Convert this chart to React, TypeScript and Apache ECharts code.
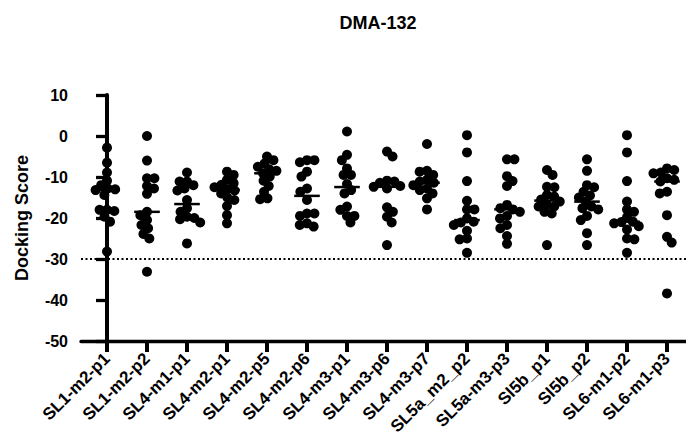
import React, { useEffect, useRef } from "react";
import * as echarts from "echarts";

const title = "DMA-132";
const yAxisName = "Docking Score";
const categories = [
  "SL1-m2-p1", "SL1-m2-p2", "SL4-m1-p1", "SL4-m2-p1", "SL4-m2-p5",
  "SL4-m2-p6", "SL4-m3-p1", "SL4-m3-p6", "SL4-m3-p7", "SL5a_m2_p2",
  "SL5a-m3-p3", "Sl5b_p1", "Sl5b_p2", "SL6-m1-p2", "SL6-m1-p3",
];

const sl1m2p1 = [-2.85, -6.5, -8.9, -10.9, -12.0, -12.8, -13.0, -13.2, -14.4, -18.0, -18.0, -18.3, -19.7, -20.9, -28.2];
const sl1m2p2 = [0.0, -6.0, -10.3, -10.3, -12.2, -12.8, -14.1, -18.5, -19.3, -20.5, -21.7, -22.5, -23.9, -25.0, -33.1];
const sl4m1p1 = [-8.9, -11.1, -11.1, -12.0, -12.8, -13.3, -15.6, -17.6, -18.5, -19.7, -20.0, -20.3, -21.1, -26.2];
const sl4m2p1 = [-8.7, -9.5, -10.7, -11.5, -11.9, -12.5, -13.0, -13.3, -14.0, -15.0, -15.6, -17.1, -19.3, -21.3];
const sl4m2p5 = [-5.0, -5.9, -6.7, -7.5, -8.1, -8.5, -9.1, -9.9, -10.9, -12.2, -13.6, -15.2, -15.4];
const sl4m2p6 = [-5.9, -5.9, -6.4, -8.7, -9.9, -12.8, -13.6, -15.6, -18.9, -18.9, -19.5, -21.3, -21.7, -22.1];
const sl4m3p1 = [1.1, -4.6, -5.9, -7.9, -9.5, -9.5, -11.7, -13.2, -14.0, -17.2, -18.0, -19.5, -19.5, -21.1];
const sl4m3p6 = [-3.8, -5.0, -10.9, -11.1, -11.4, -12.2, -12.4, -12.8, -17.4, -18.5, -19.7, -21.1, -26.6];
const sl4m3p7 = [-1.95, -8.5, -8.7, -9.5, -10.7, -11.1, -11.4, -12.0, -12.8, -13.2, -14.0, -15.2, -17.9];
const sl5am2p2 = [0.2, -4.0, -11.0, -15.8, -17.9, -17.9, -20.1, -20.9, -21.1, -21.7, -23.1, -25.0, -25.2, -28.5];
const sl5am3p3 = [-5.7, -5.7, -9.8, -11.0, -12.2, -16.8, -17.6, -17.9, -18.5, -19.5, -20.1, -21.7, -22.5, -24.4, -26.3];
const sl5bp1 = [-8.3, -9.5, -12.4, -12.5, -14.4, -14.8, -15.5, -16.0, -16.8, -17.2, -17.2, -18.5, -18.9, -26.6];
const sl5bp2 = [-5.7, -8.5, -12.0, -12.5, -13.6, -14.5, -15.0, -16.0, -17.2, -17.6, -17.9, -19.5, -20.5, -23.7, -26.6];
const sl6m1p2 = [0.2, -4.0, -11.0, -16.0, -17.9, -18.5, -19.8, -20.9, -21.0, -21.3, -22.0, -22.8, -25.0, -25.2, -28.5];
const sl6m1p3 = [-7.9, -8.3, -8.9, -9.1, -10.3, -10.7, -11.1, -13.6, -14.0, -19.3, -24.6, -26.0, -38.4];

const groups = [
  sl1m2p1, sl1m2p2, sl4m1p1, sl4m2p1, sl4m2p5, sl4m2p6, sl4m3p1, sl4m3p6,
  sl4m3p7, sl5am2p2, sl5am3p3, sl5bp1, sl5bp2, sl6m1p2, sl6m1p3,
];

const yMin = -50;
const yMax = 10;
const yStep = 10;
const threshold = -30;

// layout constants
const W = 686;
const H = 442;
const GRID_LEFT = 81;
const GRID_TOP = 95;
const GRID_BOTTOM = 101;
const CAT_PX = 40;
const X_MIN = -0.65;
const X_MAX = X_MIN + (W - GRID_LEFT) / CAT_PX;
const DOT = 10;
const SPACING = 7.4;

function median(arr: number[]) {
  const s = [...arr].sort((a, b) => a - b);
  const n = s.length;
  return n % 2 ? s[(n - 1) / 2] : (s[n / 2 - 1] + s[n / 2]) / 2;
}

function beeswarm(values: number[], pxPerUnit: number, d: number): number[] {
  const order = values.map((_, i) => i).sort((a, b) => values[b] - values[a]);
  const placed: { x: number; y: number }[] = [];
  const out: number[] = new Array(values.length).fill(0);
  let flip = 1;
  for (const i of order) {
    const y = values[i] * pxPerUnit;
    const cands = [0];
    for (const p of placed) {
      const dy = Math.abs(p.y - y);
      if (dy < d) {
        const dx = Math.sqrt(d * d - dy * dy);
        cands.push(p.x + dx + 0.01, p.x - dx - 0.01);
      }
    }
    cands.sort((a, b) => Math.abs(a) - Math.abs(b) || flip * (a - b));
    let chosen = 0;
    for (const c of cands) {
      if (placed.every((p) => (p.x - c) ** 2 + (p.y - y) ** 2 >= d * d - 0.05)) {
        chosen = c;
        break;
      }
    }
    flip = -flip;
    placed.push({ x: chosen, y });
    out[i] = chosen / CAT_PX;
  }
  return out;
}

export default function App() {
  const ref = useRef<HTMLDivElement>(null);
  useEffect(() => {
    if (!ref.current) return;
    const chart = echarts.init(ref.current, null, { renderer: "svg" });
    const pxPerUnit = (H - GRID_TOP - GRID_BOTTOM) / (yMax - yMin);
    const points: number[][] = [];
    groups.forEach((vals, g) => {
      const offs = beeswarm(vals, pxPerUnit, SPACING);
      vals.forEach((v, k) => points.push([g + offs[k], v]));
    });
    const medians = groups.map((vals, g) => [g, median(vals)]);
    const font = "Liberation Sans, Arial, sans-serif";
    chart.setOption({
      animation: false,
      backgroundColor: "#fff",
      title: {
        text: title,
        left: 373,
        top: 9,
        textAlign: "center",
        textStyle: { fontFamily: font, fontWeight: "bold", fontSize: 18, color: "#000" },
      },
      grid: { left: GRID_LEFT, right: 0, top: GRID_TOP, bottom: GRID_BOTTOM, containLabel: false },
      xAxis: {
        type: "value",
        min: X_MIN,
        max: X_MAX,
        splitLine: { show: false },
        axisLine: { show: true, onZero: false, lineStyle: { color: "#000", width: 3.3 } },
        axisTick: {
          show: true,
          length: 11,
          customValues: categories.map((_, i) => i),
          lineStyle: { color: "#000", width: 4 },
        },
        axisLabel: {
          customValues: categories.map((_, i) => i),
          formatter: (v: number) => categories[Math.round(v)] ?? "",
          rotate: 45,
          margin: 15,
          fontFamily: font,
          fontWeight: "bold",
          fontSize: 17,
          color: "#000",
        },
      },
      yAxis: {
        type: "value",
        min: yMin,
        max: yMax,
        interval: yStep,
        name: yAxisName,
        nameLocation: "middle",
        nameGap: 50,
        nameTextStyle: { fontFamily: font, fontWeight: "bold", fontSize: 18, color: "#000" },
        splitLine: { show: false },
        axisLine: { show: true, lineStyle: { color: "#000", width: 4 } },
        axisTick: { show: true, length: 11, lineStyle: { color: "#000", width: 3.3 } },
        axisLabel: {
          margin: 13,
          fontFamily: font,
          fontWeight: "bold",
          fontSize: 16,
          color: "#000",
        },
      },
      series: [
        {
          type: "scatter",
          data: points,
          symbol: "circle",
          symbolSize: DOT,
          itemStyle: { color: "#000", opacity: 1 },
          silent: true,
          markLine: {
            silent: true,
            symbol: ["none", "none"],
            label: { show: false },
            lineStyle: { color: "#000", type: [2, 2.5], width: 2 },
            data: [{ yAxis: threshold }],
          },
          z: 2,
        },
        {
          type: "custom",
          data: medians,
          encode: { x: 0, y: 1 },
          renderItem: (_p: any, api: any) => {
            const i = api.value(0);
            const m = api.value(1);
            const a = api.coord([i - 0.32, m]);
            const b = api.coord([i + 0.32, m]);
            return {
              type: "line",
              shape: { x1: a[0], y1: a[1], x2: b[0], y2: b[1] },
              style: { stroke: "#000", lineWidth: 2.5 },
            };
          },
          z: 3,
        },
      ],
    });
    return () => chart.dispose();
  }, []);
  return (
    <div
      ref={ref}
      style={{ position: "fixed", left: 0, top: 0, width: W, height: H, background: "#fff" }}
    />
  );
}
